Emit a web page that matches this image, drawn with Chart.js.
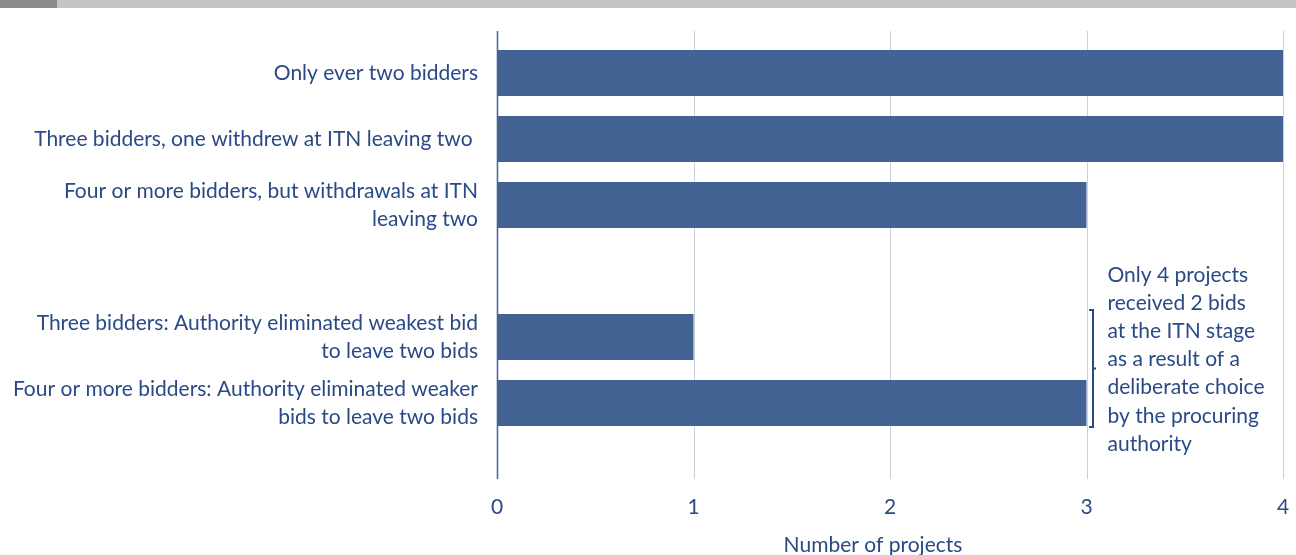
<!DOCTYPE html>
<html>
<head>
<meta charset="utf-8">
<title>Projects receiving two bids at ITN</title>
<script src="https://cdn.jsdelivr.net/npm/chart.js@4.4.1/dist/chart.umd.min.js"></script>
<style>
  html, body { margin: 0; padding: 0; background: #fff; }
  #wrap { position: relative; width: 1296px; height: 555px; }
  .band { position: absolute; top: 0; left: 0; width: 1296px; height: 8px; background: #c3c4c6; }
  .band span { position: absolute; left: 0; top: 0; width: 57px; height: 8px; background: #8b8b8d; }
</style>
</head>
<body>
<div id="wrap">
  <canvas id="bids-chart" width="1296" height="555"></canvas>
  <div class="band"><span></span></div>
</div>
<script>
// Reasons why only two bids were received at the ITN stage
const categories = [
    'Only ever two bidders',
    'Three bidders, one withdrew at ITN leaving two ',
    ['Four or more bidders, but withdrawals at ITN', 'leaving two'],
    '',
    ['Three bidders: Authority eliminated weakest bid', 'to leave two bids'],
    ['Four or more bidders: Authority eliminated weaker', 'bids to leave two bids']
];
const projects = [4, 4, 3, null, 1, 3];
const xTicks = [0, 1, 2, 3, 4];
const axisTitle = 'Number of projects';

// note beside the bracket grouping the last two rows
const bracketRows = [4, 5];
const noteLines = [
    'Only 4 projects',
    'received 2 bids',
    'at the ITN stage',
    'as a result of a',
    'deliberate choice',
    'by the procuring',
    'authority'
];

const TEXT = '#294a86';
const BAR = '#436395';
const GRID = '#c9d1de';
const AXIS = '#4f6b9d';
const FONT = 'Lato, "Noto Sans", sans-serif';
const SIZE = 21;

// gridlines and the zero axis run a little past the bar area
const gridPlugin = {
    id: 'longGrid',
    beforeDatasetsDraw(chart) {
        const { ctx, chartArea, scales } = chart;
        const top = chartArea.top - 9;
        const bottom = chartArea.bottom + 43;
        ctx.save();
        xTicks.forEach(v => {
            const x = Math.round(scales.x.getPixelForValue(v)) + 0.5;
            ctx.beginPath();
            ctx.strokeStyle = v === 0 ? AXIS : GRID;
            ctx.lineWidth = v === 0 ? 1.6 : 1;
            ctx.moveTo(x, top);
            ctx.lineTo(x, bottom);
            ctx.stroke();
        });
        ctx.restore();
    },
    afterDraw(chart) {
        // axis title sits a little left of the plot centre
        const { ctx, chartArea } = chart;
        ctx.save();
        ctx.fillStyle = TEXT;
        ctx.font = SIZE + 'px ' + FONT;
        ctx.textAlign = 'center';
        ctx.textBaseline = 'middle';
        ctx.fillText(axisTitle, (chartArea.left + chartArea.right) / 2 - 17, chartArea.bottom + 109);
        ctx.restore();
    }
};

const notePlugin = {
    id: 'bracketNote',
    afterDatasetsDraw(chart) {
        const { ctx, scales } = chart;
        const meta = chart.getDatasetMeta(0);
        const first = meta.data[bracketRows[0]];
        const last = meta.data[bracketRows[bracketRows.length - 1]];
        const maxVal = Math.max(...bracketRows.map(i => projects[i]));
        const bx = scales.x.getPixelForValue(maxVal) + 6.5;
        const top = first.y - first.height / 2 - 4;
        const bottom = last.y + last.height / 2 + 1;
        const mid = (top + bottom) / 2;

        ctx.save();
        ctx.strokeStyle = TEXT;
        ctx.lineWidth = 2;
        ctx.beginPath();
        ctx.moveTo(bx - 4, top);
        ctx.lineTo(bx, top);
        ctx.lineTo(bx, bottom);
        ctx.lineTo(bx - 4, bottom);
        ctx.moveTo(bx, mid);
        ctx.lineTo(bx + 3, mid);
        ctx.stroke();

        ctx.fillStyle = TEXT;
        ctx.font = SIZE + 'px ' + FONT;
        ctx.textAlign = 'left';
        ctx.textBaseline = 'middle';
        const lh = 28.2;
        const y0 = mid - 9 - lh * (noteLines.length - 1) / 2;
        noteLines.forEach((line, i) => {
            ctx.fillText(line, bx + 14.5, y0 + i * lh);
        });
        ctx.restore();
    }
};

new Chart(document.getElementById('bids-chart'), {
    type: 'bar',
    data: {
        labels: categories,
        datasets: [{
            data: projects,
            backgroundColor: BAR,
            borderWidth: 0,
            barPercentage: 1,
            categoryPercentage: 0.697
        }]
    },
    options: {
        indexAxis: 'y',
        responsive: false,
        animation: false,
        layout: {
            padding: { top: 40, right: 13, bottom: 0, left: 0 }
        },
        plugins: {
            legend: { display: false },
            tooltip: { enabled: false }
        },
        scales: {
            x: {
                min: 0,
                max: 4,
                afterBuildTicks(scale) {
                    scale.ticks = xTicks.map(v => ({ value: v }));
                },
                afterFit(scale) {
                    scale.height = 119;
                },
                // hidden tick marks keep the labels clear of the bars
                grid: { display: false, drawTicks: true, tickLength: 61 },
                border: { display: false },
                ticks: {
                    color: TEXT,
                    padding: 0,
                    font: { family: FONT, size: SIZE, lineHeight: 1 }
                }
            },
            y: {
                afterFit(scale) {
                    scale.width = 497;
                },
                grid: { display: false, drawTicks: true, tickLength: 19 },
                border: { display: false },
                ticks: {
                    color: TEXT,
                    padding: 0,
                    autoSkip: false,
                    font: { family: FONT, size: SIZE, lineHeight: '28px' }
                }
            }
        }
    },
    plugins: [gridPlugin, notePlugin]
});
</script>
</body>
</html>
